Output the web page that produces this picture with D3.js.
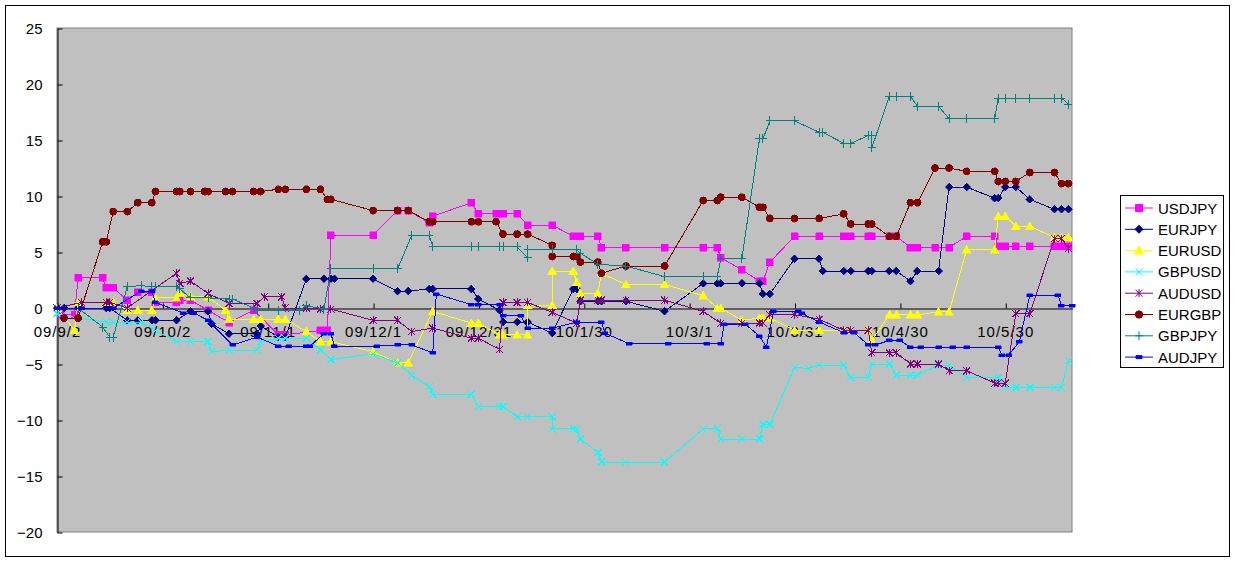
<!DOCTYPE html>
<html>
<head>
<meta charset="utf-8">
<script src="https://cdn.jsdelivr.net/npm/d3@7"></script>
<style>
  body { margin: 0; background: #fff; }
  text { font-family: "Liberation Sans", Arial, sans-serif; }
  .series path { shape-rendering: crispEdges; }
</style>
</head>
<body>
<div class="chart"></div>
<script>
// 各通貨ペアの損益推移 [日付, 値]
const usdjpy = [
  ['2009-09-03',-0.6],['2009-09-07',-0.6],['2009-09-08',2.7],['2009-09-15',2.7],['2009-09-16',1.8],['2009-09-18',1.8],
  ['2009-09-22',0.7],['2009-09-25',1.4],['2009-09-29',1.4],['2009-09-30',0.5],['2009-10-06',0.5],['2009-10-07',0.7],
  ['2009-10-10',0.7],['2009-10-15',-0.2],['2009-10-21',-1.3],['2009-10-28',-0.2],['2009-11-04',-2.4],['2009-11-06',-2.4],
  ['2009-11-16',-2.0],['2009-11-18',-2.0],['2009-11-19',6.5],['2009-12-01',6.5],['2009-12-08',8.7],['2009-12-11',8.7],
  ['2009-12-17',7.6],['2009-12-18',8.2],['2009-12-29',9.4],['2009-12-31',8.4],['2010-01-05',8.4],['2010-01-07',8.4],
  ['2010-01-11',8.4],['2010-01-14',7.4],['2010-01-21',7.4],['2010-01-27',6.4],['2010-01-29',6.4],['2010-02-03',6.4],
  ['2010-02-04',5.4],['2010-02-11',5.4],['2010-02-22',5.4],['2010-03-05',5.4],['2010-03-09',5.4],['2010-03-10',4.5],
  ['2010-03-16',3.4],['2010-03-21',2.4],['2010-03-22',2.4],['2010-03-24',4.1],['2010-03-31',6.4],['2010-04-07',6.4],
  ['2010-04-14',6.4],['2010-04-16',6.4],['2010-04-21',6.4],['2010-04-22',6.4],['2010-04-27',6.4],['2010-04-29',6.4],
  ['2010-05-03',5.4],['2010-05-05',5.4],['2010-05-10',5.4],['2010-05-14',5.4],['2010-05-19',6.4],['2010-05-27',6.4],
  ['2010-05-28',5.5],['2010-05-30',5.5],['2010-06-02',5.5],['2010-06-06',5.5],['2010-06-13',5.5],['2010-06-15',5.5],
  ['2010-06-17',5.5]
]
const eurjpy = [
  ['2009-09-02',0],['2009-09-04',0],['2009-09-08',0],['2009-09-16',0],['2009-09-17',0],['2009-09-22',-1.1],
  ['2009-09-25',-1.1],['2009-09-29',-1.1],['2009-09-30',-1.1],['2009-10-06',-1.1],['2009-10-10',-0.3],['2009-10-15',-0.3],
  ['2009-10-16',-1.4],['2009-10-21',-2.3],['2009-10-29',-2.3],['2009-10-30',-1.6],['2009-11-04',-2.6],['2009-11-06',-2.6],
  ['2009-11-12',2.6],['2009-11-17',2.6],['2009-11-19',2.6],['2009-11-20',2.6],['2009-12-01',2.6],['2009-12-08',1.5],
  ['2009-12-11',1.5],['2009-12-17',1.7],['2009-12-18',1.7],['2009-12-29',1.7],['2009-12-31',0.8],['2010-01-06',-0.2],
  ['2010-01-07',-1.25],['2010-01-11',-1.25],['2010-01-14',-1.25],['2010-01-21',-2.25],['2010-01-27',1.7],['2010-01-28',1.7],
  ['2010-01-29',0.6],['2010-02-03',0.6],['2010-02-04',0.6],['2010-02-11',0.6],['2010-02-22',-0.3],['2010-03-05',2.2],
  ['2010-03-09',2.2],['2010-03-10',2.2],['2010-03-16',2.2],['2010-03-21',2.2],['2010-03-22',1.25],['2010-03-24',1.25],
  ['2010-03-31',4.4],['2010-04-07',4.4],['2010-04-08',3.3],['2010-04-14',3.3],['2010-04-16',3.3],['2010-04-21',3.3],
  ['2010-04-22',3.3],['2010-04-27',3.3],['2010-04-29',3.3],['2010-05-03',2.4],['2010-05-05',3.3],['2010-05-11',3.3],
  ['2010-05-14',10.8],['2010-05-19',10.8],['2010-05-27',9.8],['2010-05-28',9.8],['2010-05-30',10.8],['2010-06-02',10.8],
  ['2010-06-06',9.7],['2010-06-13',8.8],['2010-06-15',8.8],['2010-06-17',8.8]
]
const eurusd = [
  ['2009-09-02',0],['2009-09-07',-2.0],['2009-09-08',0.5],['2009-09-16',0.5],['2009-09-18',0.5],['2009-09-22',-0.2],
  ['2009-09-25',-0.2],['2009-09-29',-0.2],['2009-09-30',0.9],['2009-10-06',0.9],['2009-10-07',1.3],['2009-10-10',1.0],
  ['2009-10-15',1.0],['2009-10-20',-0.2],['2009-10-21',-1.0],['2009-10-28',-1.0],['2009-10-30',-1.0],['2009-11-04',-1.0],
  ['2009-11-06',-1.0],['2009-11-12',-2.1],['2009-11-16',-3.0],['2009-11-19',-3.0],['2009-12-01',-3.9],['2009-12-08',-4.9],
  ['2009-12-11',-4.9],['2009-12-18',-0.3],['2009-12-29',-1.35],['2009-12-31',-1.35],['2010-01-06',-2.4],['2010-01-07',-2.4],
  ['2010-01-11',-2.4],['2010-01-14',-2.4],['2010-01-14',0.25],['2010-01-21',0.25],['2010-01-21',3.3],['2010-01-27',3.3],
  ['2010-01-28',2.3],['2010-01-29',1.3],['2010-02-03',1.3],['2010-02-04',3.1],['2010-02-11',2.1],['2010-02-22',2.1],
  ['2010-03-05',1.1],['2010-03-09',0],['2010-03-10',0],['2010-03-16',-1.1],['2010-03-21',-0.9],['2010-03-22',-0.9],
  ['2010-03-24',-0.9],['2010-03-31',-2.0],['2010-04-07',-2.0],['2010-04-14',-2.0],['2010-04-16',-2.0],['2010-04-21',-2.0],
  ['2010-04-22',-2.9],['2010-04-27',-0.6],['2010-04-29',-0.6],['2010-05-03',-0.6],['2010-05-05',-0.6],['2010-05-11',-0.35],
  ['2010-05-14',-0.35],['2010-05-19',5.2],['2010-05-27',5.2],['2010-05-28',8.2],['2010-05-30',8.2],['2010-06-02',7.3],
  ['2010-06-06',7.3],['2010-06-13',6.3],['2010-06-15',6.3],['2010-06-17',6.3]
]
const gbpusd = [
  ['2009-09-02',-0.5],['2009-09-08',-0.9],['2009-09-16',-1.25],['2009-09-18',-1.25],['2009-09-22',-1.25],['2009-09-26',-1.25],
  ['2009-09-30',-2.0],['2009-10-06',-3.0],['2009-10-10',-3.0],['2009-10-15',-3.0],['2009-10-16',-3.9],['2009-10-21',-3.75],
  ['2009-10-29',-3.75],['2009-10-30',-3.0],['2009-11-04',-2.7],['2009-11-06',-2.7],['2009-11-12',-2.7],['2009-11-16',-3.75],
  ['2009-11-19',-4.6],['2009-12-01',-4.1],['2009-12-08',-4.9],['2009-12-12',-6.0],['2009-12-17',-7.05],['2009-12-18',-7.7],
  ['2009-12-29',-7.7],['2009-12-31',-8.8],['2010-01-06',-8.8],['2010-01-07',-8.8],['2010-01-11',-9.7],['2010-01-14',-9.7],
  ['2010-01-21',-9.7],['2010-01-21',-10.8],['2010-01-27',-10.8],['2010-01-28',-10.8],['2010-01-29',-11.7],['2010-02-03',-12.9],
  ['2010-02-04',-13.75],['2010-02-11',-13.75],['2010-02-22',-13.75],['2010-03-05',-10.8],['2010-03-09',-10.8],['2010-03-10',-11.7],
  ['2010-03-16',-11.7],['2010-03-21',-11.7],['2010-03-22',-10.4],['2010-03-24',-10.4],['2010-03-31',-5.3],['2010-04-04',-5.4],
  ['2010-04-07',-5.1],['2010-04-14',-5.1],['2010-04-16',-6.2],['2010-04-21',-6.2],['2010-04-22',-5.0],['2010-04-27',-5.0],
  ['2010-04-29',-6.0],['2010-05-03',-6.0],['2010-05-05',-6.0],['2010-05-11',-5.1],['2010-05-14',-5.1],['2010-05-19',-6.2],
  ['2010-05-28',-6.2],['2010-05-30',-7.1],['2010-06-02',-7.1],['2010-06-06',-7.1],['2010-06-13',-7.1],['2010-06-15',-7.1],
  ['2010-06-17',-4.7]
]
const audusd = [
  ['2009-09-02',0],['2009-09-09',0.5],['2009-09-16',0.5],['2009-09-17',0.5],['2009-09-22',0],['2009-10-06',3.1],
  ['2009-10-07',2.2],['2009-10-10',2.4],['2009-10-15',1.3],['2009-10-21',0.4],['2009-10-29',0.4],['2009-10-31',1.0],
  ['2009-11-05',1.0],['2009-11-06',0],['2009-11-12',0],['2009-11-16',-0.1],['2009-11-19',-0.1],['2009-12-01',-1.1],
  ['2009-12-08',-1.1],['2009-12-12',-2.1],['2009-12-18',-1.8],['2009-12-29',-2.7],['2009-12-31',-2.7],['2010-01-06',-3.7],
  ['2010-01-07',0.5],['2010-01-11',0.5],['2010-01-14',0.5],['2010-01-21',-0.4],['2010-01-28',-1.35],['2010-01-29',0.7],
  ['2010-02-03',0.7],['2010-02-04',0.7],['2010-02-11',0.7],['2010-02-22',0.7],['2010-03-05',-0.3],['2010-03-10',-1.35],
  ['2010-03-16',-1.35],['2010-03-21',-1.35],['2010-03-22',-1.35],['2010-03-24',-0.6],['2010-03-31',-0.6],['2010-04-07',-1.0],
  ['2010-04-14',-2.0],['2010-04-16',-2.0],['2010-04-21',-2.0],['2010-04-22',-4.0],['2010-04-27',-4.0],['2010-04-29',-4.0],
  ['2010-05-03',-5.0],['2010-05-05',-5.0],['2010-05-11',-5.0],['2010-05-14',-5.6],['2010-05-19',-5.6],['2010-05-27',-6.7],
  ['2010-05-28',-6.7],['2010-05-30',-6.7],['2010-06-02',-0.5],['2010-06-06',-0.5],['2010-06-13',6.2],['2010-06-15',6.2],
  ['2010-06-17',5.3]
]
const eurgbp = [
  ['2009-09-04',-0.9],['2009-09-08',-0.9],['2009-09-15',5.9],['2009-09-16',5.9],['2009-09-18',8.6],['2009-09-22',8.6],
  ['2009-09-25',9.4],['2009-09-29',9.4],['2009-09-30',10.4],['2009-10-06',10.4],['2009-10-07',10.4],['2009-10-10',10.4],
  ['2009-10-14',10.4],['2009-10-15',10.4],['2009-10-20',10.4],['2009-10-22',10.4],['2009-10-28',10.4],['2009-10-30',10.4],
  ['2009-11-04',10.6],['2009-11-06',10.6],['2009-11-12',10.6],['2009-11-16',10.6],['2009-11-18',9.7],['2009-11-19',9.7],
  ['2009-12-01',8.7],['2009-12-08',8.7],['2009-12-11',8.7],['2009-12-17',7.7],['2009-12-18',7.7],['2009-12-29',7.7],
  ['2009-12-31',7.7],['2010-01-05',7.7],['2010-01-07',6.6],['2010-01-11',6.6],['2010-01-14',6.6],['2010-01-21',5.6],
  ['2010-01-21',4.6],['2010-01-27',4.6],['2010-01-28',4.6],['2010-01-29',4.1],['2010-02-03',4.1],['2010-02-04',3.1],
  ['2010-02-11',3.75],['2010-02-22',3.75],['2010-03-05',9.6],['2010-03-09',9.6],['2010-03-10',9.9],['2010-03-16',9.9],
  ['2010-03-21',9.0],['2010-03-22',9.0],['2010-03-24',8.0],['2010-03-31',8.0],['2010-04-07',8.0],['2010-04-14',8.4],
  ['2010-04-16',7.5],['2010-04-21',7.5],['2010-04-22',7.5],['2010-04-27',6.4],['2010-04-29',6.4],['2010-05-03',9.4],
  ['2010-05-05',9.4],['2010-05-10',12.5],['2010-05-14',12.5],['2010-05-19',12.2],['2010-05-27',12.2],['2010-05-28',11.3],
  ['2010-05-30',11.3],['2010-06-02',11.3],['2010-06-06',12.1],['2010-06-13',12.1],['2010-06-15',11.1],['2010-06-17',11.1]
]
const gbpjpy = [
  ['2009-09-02',0],['2009-09-08',0],['2009-09-15',-1.7],['2009-09-17',-2.6],['2009-09-18',-2.6],['2009-09-22',1.9],
  ['2009-09-26',2.0],['2009-09-29',1.9],['2009-09-30',1.9],['2009-10-06',1.9],['2009-10-07',1.7],['2009-10-10',0.9],
  ['2009-10-15',0.9],['2009-10-21',0.8],['2009-10-22',0.8],['2009-10-28',0],['2009-10-29',-0.2],['2009-11-04',-0.2],
  ['2009-11-10',-0.2],['2009-11-12',0.2],['2009-11-17',-0.1],['2009-11-19',3.5],['2009-12-01',3.5],['2009-12-08',3.5],
  ['2009-12-12',6.5],['2009-12-17',6.5],['2009-12-18',5.45],['2009-12-29',5.45],['2009-12-31',5.45],['2010-01-06',5.45],
  ['2010-01-07',5.45],['2010-01-11',5.45],['2010-01-14',4.5],['2010-01-14',5.2],['2010-01-21',5.2],['2010-01-28',5.2],
  ['2010-01-29',4.9],['2010-02-03',3.9],['2010-02-11',3.75],['2010-02-22',2.8],['2010-03-05',2.8],['2010-03-09',2.8],
  ['2010-03-10',4.4],['2010-03-16',4.4],['2010-03-21',15.1],['2010-03-22',15.1],['2010-03-24',16.7],['2010-03-31',16.7],
  ['2010-04-07',15.7],['2010-04-08',15.7],['2010-04-14',14.7],['2010-04-16',14.7],['2010-04-21',15.4],['2010-04-22',15.4],
  ['2010-04-22',14.3],['2010-04-27',18.9],['2010-04-29',18.9],['2010-05-03',18.9],['2010-05-05',18.0],['2010-05-11',18.0],
  ['2010-05-14',16.9],['2010-05-19',16.9],['2010-05-27',16.9],['2010-05-28',18.75],['2010-05-30',18.75],['2010-06-02',18.75],
  ['2010-06-06',18.75],['2010-06-13',18.75],['2010-06-15',18.75],['2010-06-17',18.2]
]
const audjpy = [
  ['2009-09-02',0],['2009-09-09',0],['2009-09-18',0],['2009-09-26',1.5],['2009-09-29',1.5],['2009-09-30',0.5],
  ['2009-10-08',-0.45],['2009-10-11',-0.45],['2009-10-15',-1.1],['2009-10-22',-3.3],['2009-10-29',-2.6],['2009-11-04',-3.4],
  ['2009-11-07',-3.4],['2009-11-12',-3.4],['2009-11-13',-3.4],['2009-11-17',-2.3],['2009-11-19',-2.3],['2009-11-20',-3.4],
  ['2009-12-02',-3.4],['2009-12-08',-3.3],['2009-12-12',-3.3],['2009-12-18',-4.0],['2009-12-19',1.25],['2009-12-29',0.3],
  ['2009-12-31',0.3],['2010-01-06',0.3],['2010-01-07',-0.7],['2010-01-12',-0.7],['2010-01-14',-1.8],['2010-01-21',-1.8],
  ['2010-01-28',-1.25],['2010-02-04',-1.25],['2010-02-05',-2.25],['2010-02-12',-3.2],['2010-02-23',-3.2],['2010-03-06',-3.2],
  ['2010-03-10',-3.2],['2010-03-11',-1.45],['2010-03-17',-1.45],['2010-03-21',-2.5],['2010-03-23',-3.5],['2010-03-25',-0.3],
  ['2010-04-01',-0.3],['2010-04-02',-0.45],['2010-04-07',-1.25],['2010-04-14',-2.2],['2010-04-17',-2.2],['2010-04-21',-3.3],
  ['2010-04-23',-3.3],['2010-04-27',-2.9],['2010-04-30',-2.9],['2010-05-03',-3.5],['2010-05-06',-3.5],['2010-05-11',-3.5],
  ['2010-05-15',-3.5],['2010-05-19',-3.5],['2010-05-28',-3.5],['2010-05-29',-4.2],['2010-05-31',-4.2],['2010-06-03',-3.0],
  ['2010-06-06',1.15],['2010-06-14',1.15],['2010-06-15',0.2],['2010-06-18',0.2]
]

const seriesNames = ['USDJPY', 'EURJPY', 'EURUSD', 'GBPUSD', 'AUDUSD', 'EURGBP', 'GBPJPY', 'AUDJPY']
const seriesValues = [usdjpy, eurjpy, eurusd, gbpusd, audusd, eurgbp, gbpjpy, audjpy]
const seriesColors = ['#FF00FF', '#000080', '#FFFF00', '#00FFFF', '#800080', '#800000', '#008080', '#0000FF']
const markerTypes = ['square', 'diamond', 'triangle', 'x', 'star', 'circle', 'plus', 'dash']

const xTickDates = ['2009-09-02', '2009-10-02', '2009-11-01', '2009-12-01', '2009-12-31',
  '2010-01-30', '2010-03-01', '2010-03-31', '2010-04-30', '2010-05-30']
const xTickLabels = ['09/9/2', '09/10/2', '09/11/1', '09/12/1', '09/12/31',
  '10/1/30', '10/3/1', '10/3/31', '10/4/30', '10/5/30']
const xDomain = ['2009-09-02', '2010-06-18']
const yTicks = [-20, -15, -10, -5, 0, 5, 10, 15, 20, 25]

const W = 1236, H = 562
const plot = {left: 57, top: 28, right: 1072, bottom: 532}
const parse = d3.utcParse('%Y-%m-%d')

const svg = d3.select('.chart')
  .append('svg')
    .attr('width', W)
    .attr('height', H)

// 外枠
svg.append('rect')
  .attr('x', 5.5).attr('y', 5.5)
  .attr('width', 1224).attr('height', 551)
  .attr('fill', '#fff').attr('stroke', '#000')

svg.append('rect')
  .attr('x', plot.left).attr('y', plot.top)
  .attr('width', plot.right - plot.left).attr('height', plot.bottom - plot.top)
  .attr('fill', '#C0C0C0').attr('stroke', '#808080')

const xScale = d3.scaleUtc()
  .domain(xDomain.map(parse))
  .range([plot.left, plot.right])

const yScale = d3.scaleLinear()
  .domain([-20, 25])
  .range([plot.bottom, plot.top])

// y軸
const yAxis = svg.append('g')
  .attr('transform', `translate(${plot.left + 0.5}, 0.5)`)
  .call(d3.axisLeft(yScale).tickValues(yTicks).tickSize(-5).tickSizeOuter(0).tickPadding(15))
yAxis.select('.domain').attr('stroke', '#000')
yAxis.selectAll('text').attr('font-size', 15).attr('fill', '#000')
  .attr('font-family', '"Liberation Sans", Arial, sans-serif')

// ゼロ線 + 目盛り
const zeroAxis = svg.append('g')
  .attr('transform', `translate(0.5, ${Math.round(yScale(0)) + 0.5})`)
  .call(d3.axisBottom(xScale).tickValues(xTickDates.map(parse)).tickSize(-5).tickSizeOuter(0).tickFormat(''))
zeroAxis.select('.domain').attr('stroke', '#000')

const xLabels = svg.append('g')
  .attr('transform', `translate(0, ${yScale(0)})`)
  .call(d3.axisBottom(xScale).tickValues(xTickDates.map(parse)).tickSize(0).tickPadding(18)
    .tickFormat((d, i) => xTickLabels[i]))
xLabels.select('.domain').remove()
xLabels.selectAll('text').attr('font-size', 15).attr('fill', '#000')
  .attr('letter-spacing', 1)
  .attr('font-family', '"Liberation Sans", Arial, sans-serif')

function markerPath(type) {
  switch (type) {
    case 'square': return 'M-3.5,-3.5H3.5V3.5H-3.5Z'
    case 'diamond': return 'M0,-4L4,0L0,4L-4,0Z'
    case 'triangle': return 'M0,-4.5L4.5,3.5H-4.5Z'
    case 'circle': return d3.symbol(d3.symbolCircle, 42)()
    case 'x': return 'M-3.5,-3.5L3.5,3.5M-3.5,3.5L3.5,-3.5'
    case 'star': return 'M-3.5,-3.5L3.5,3.5M-3.5,3.5L3.5,-3.5M0,-4V4'
    case 'plus': return 'M0,-4.5V4.5M-4,0H4'
    case 'dash': return 'M-3,-1.5H3V1.5H-3Z'
  }
}
const strokeOnly = t => t === 'x' || t === 'star' || t === 'plus'

const line = d3.line()
  .x(d => xScale(parse(d[0])))
  .y(d => yScale(d[1]))

const series = svg.selectAll('.series')
  .data(seriesValues)
  .enter()
  .append('g')
  .attr('class', 'series')

series.append('path')
  .attr('d', d => line(d))
  .attr('fill', 'none')
  .attr('stroke', (d, i) => seriesColors[i])
  .attr('stroke-width', 1)

series.each(function(values, i) {
  const t = markerTypes[i]
  d3.select(this).selectAll('.mk')
    .data(values)
    .enter()
    .append('path')
    .attr('class', 'mk')
    .attr('transform', d => `translate(${xScale(parse(d[0]))}, ${yScale(d[1])})`)
    .attr('d', markerPath(t))
    .attr('fill', strokeOnly(t) ? 'none' : seriesColors[i])
    .attr('stroke', seriesColors[i])
    .attr('stroke-width', strokeOnly(t) ? 1 : 0.5)
})

// 凡例
const legend = svg.append('g')
legend.append('rect')
  .attr('x', 1120.5).attr('y', 195.5)
  .attr('width', 103).attr('height', 172)
  .attr('fill', '#fff').attr('stroke', '#000')

const item = legend.selectAll('.item')
  .data(seriesNames)
  .enter()
  .append('g')
  .attr('class', 'item')
  .attr('transform', (d, i) => `translate(0, ${208 + i * 21.3})`)

item.append('line')
  .attr('x1', 1125).attr('x2', 1153)
  .attr('stroke', (d, i) => seriesColors[i])
item.append('path')
  .attr('transform', 'translate(1139, 0)')
  .attr('d', (d, i) => markerPath(markerTypes[i]))
  .attr('fill', (d, i) => strokeOnly(markerTypes[i]) ? 'none' : seriesColors[i])
  .attr('stroke', (d, i) => seriesColors[i])
item.append('text')
  .attr('x', 1158).attr('y', 5.5)
  .attr('font-size', 15)
  .text(d => d)
</script>
</body>
</html>
